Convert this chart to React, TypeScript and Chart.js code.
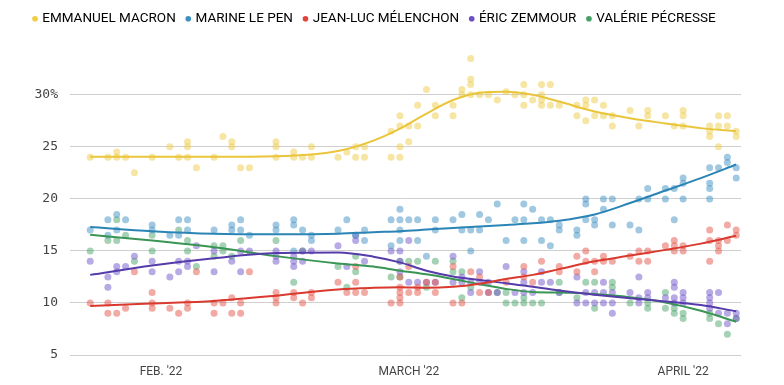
import React, { useEffect, useRef } from "react";
import { Chart, registerables } from "chart.js";

Chart.register(...registerables);

// ---- Data (day of year, Jan 1 = 0) ----
const candidates = ["EMMANUEL MACRON", "MARINE LE PEN", "JEAN-LUC MÉLENCHON", "ÉRIC ZEMMOUR", "VALÉRIE PÉCRESSE"];
const lineColors = ["#eac53b", "#2a84b5", "#da392e", "#563baa", "#3a9555"];
const dotColors = [
  "rgba(238,203,72,0.5)",
  "rgba(66,146,196,0.5)",
  "rgba(230,86,74,0.5)",
  "rgba(114,86,202,0.5)",
  "rgba(76,166,106,0.5)",
];
const legendColors = ["#f0cd45", "#3d90c2", "#e0443a", "#6b50c4", "#45a067"];

const xTickDays = [31, 59, 90];
const xTickLabels = ["FEB. '22", "MARCH '22", "APRIL '22"];
const yTicks = [5, 10, 15, 20, 25, 30];

const macronPolls: [number, number][] = [
  [23, 24], [25, 24], [26, 24], [26, 24.5], [27, 24], [28, 22.5], [30, 24], [32, 25], [33, 24],
  [34, 25.5], [34, 25], [34, 24], [35, 23], [37, 24], [38, 26], [39, 25.5], [39, 25], [40, 23],
  [41, 23], [44, 25.5], [44, 25], [44, 24], [46, 24.5], [46, 24], [47, 24], [48, 25], [48, 24],
  [51, 24], [52, 24.5], [53, 25], [53, 24], [54, 25], [54, 24], [57, 26.5], [57, 24], [58, 28],
  [58, 27], [58, 25], [58, 24], [59, 27], [59, 25.5], [60, 29], [60, 27], [61, 30.5], [62, 29],
  [62, 28], [64, 29], [64, 28], [65, 30.5], [65, 30], [66, 33.5], [66, 31.5], [66, 31], [66, 30],
  [67, 30], [68, 30], [69, 29.5], [70, 30.3], [71, 30], [72, 31], [72, 30], [72, 29], [73, 29.5],
  [74, 31], [74, 30], [74, 29.5], [74, 29], [75, 31], [75, 29], [76, 29], [78, 29], [78, 28],
  [79, 29.5], [79, 29], [79, 27.5], [80, 29.5], [80, 28], [81, 29], [81, 28], [82, 28], [82, 27],
  [84, 28.5], [85, 27], [86, 28.5], [86, 28], [88, 28], [89, 27], [90, 28.5], [90, 28], [90, 27],
  [93, 27], [93, 26.5], [93, 26], [94, 28], [94, 27], [94, 25], [95, 28], [95, 27], [96, 26.5], [96, 26],
];

const lePenPolls: [number, number][] = [
  [23, 17], [25, 18], [25, 16.5], [26, 18.5], [26, 17], [27, 18], [30, 17.5], [30, 17], [32, 16.5],
  [33, 18], [33, 16.5], [34, 18], [34, 17], [37, 17], [39, 17.5], [39, 17], [40, 18], [40, 17],
  [41, 16.5], [44, 17.5], [44, 17], [46, 18], [46, 17.5], [46, 15], [47, 17], [48, 16.5], [48, 16],
  [51, 17], [52, 18], [53, 16.5], [54, 17], [54, 16], [57, 18], [57, 15.5], [58, 19], [58, 18],
  [58, 17], [58, 16], [59, 18], [60, 18], [60, 16], [61, 14.5], [62, 18], [62, 17], [64, 18],
  [65, 18.5], [65, 17], [66, 17], [66, 15], [67, 18.5], [67, 17], [68, 18], [69, 19.5], [70, 16],
  [71, 18], [72, 19.5], [72, 18], [72, 16], [73, 19], [74, 18], [74, 16], [75, 18], [75, 15.5],
  [76, 17.5], [76, 17], [78, 17], [78, 16.5], [79, 20], [79, 19.5], [79, 18], [80, 18], [80, 17.5],
  [81, 20], [81, 19], [82, 20], [82, 17.5], [84, 17.5], [85, 20], [85, 17], [86, 21], [86, 20],
  [88, 21], [88, 20], [89, 21], [89, 18], [90, 22], [90, 21.5], [90, 20], [93, 23], [93, 21.5],
  [93, 21], [93, 20], [94, 23], [95, 24], [95, 23.5], [96, 23], [96, 22],
];

const melenchonPolls: [number, number][] = [
  [23, 10], [25, 10], [25, 9], [26, 9], [27, 9.5], [28, 13], [30, 11], [30, 10], [30, 9.5], [32, 9.5],
  [33, 9], [34, 10], [34, 9.5], [35, 13], [37, 10], [37, 9], [38, 10], [39, 10.5], [39, 9], [40, 10],
  [40, 9], [41, 13], [44, 11], [44, 10.5], [44, 10], [46, 11], [46, 10.5], [47, 10], [48, 11],
  [48, 10.5], [51, 12], [52, 11], [53, 13.5], [53, 12], [53, 11], [54, 11], [57, 10], [58, 12.5],
  [58, 11.5], [58, 11], [58, 10.5], [58, 10], [59, 13.5], [59, 11], [60, 11.5], [60, 11], [61, 12],
  [62, 12], [62, 11], [64, 13.5], [64, 10], [65, 10], [66, 13], [67, 12.5], [67, 11], [68, 11],
  [70, 12], [72, 13.5], [72, 12.5], [73, 12], [74, 14], [76, 13.5], [76, 13], [78, 14.5], [78, 13],
  [79, 15], [79, 14], [80, 14], [80, 13], [81, 14.5], [81, 14], [82, 14], [84, 14.5], [85, 15],
  [85, 14], [86, 15], [86, 14], [88, 15.5], [89, 16], [89, 15.5], [89, 15], [90, 15.5], [90, 15],
  [93, 17], [93, 16], [93, 14], [94, 16], [94, 15.5], [94, 15], [95, 17.5], [95, 16], [96, 17], [96, 16.5],
];

const zemmourPolls: [number, number][] = [
  [23, 14], [25, 12.5], [25, 11.5], [26, 13.5], [26, 13], [27, 13.5], [28, 14.5], [30, 14], [30, 13],
  [32, 12.5], [33, 14], [33, 13], [34, 14], [34, 13.5], [35, 15.5], [37, 15], [37, 13], [39, 14],
  [40, 15], [40, 13], [41, 15], [44, 15], [44, 14.5], [44, 14], [46, 14.5], [46, 14], [46, 13.5],
  [47, 15], [47, 14], [48, 15], [51, 15.5], [52, 13.5], [53, 16.5], [53, 16], [54, 14], [57, 15],
  [58, 15], [58, 14], [58, 13], [59, 16], [59, 12], [60, 12], [61, 12], [62, 12], [64, 14.5],
  [64, 12], [65, 12.5], [65, 12], [66, 12], [66, 11], [67, 13], [67, 12], [68, 12], [68, 11],
  [69, 11], [70, 13.5], [71, 11], [72, 13], [72, 12], [72, 11], [73, 11], [74, 13], [74, 12],
  [75, 12], [76, 11], [78, 12.5], [78, 10], [79, 11], [79, 10], [80, 11], [80, 10], [81, 12],
  [81, 11], [81, 10], [82, 11], [82, 10], [82, 9], [84, 11], [85, 12.5], [85, 10.5], [85, 10],
  [86, 11], [86, 10.5], [88, 10.5], [89, 12], [89, 11.5], [89, 10.5], [89, 10], [90, 11], [90, 10.5],
  [90, 10], [93, 11], [93, 10.5], [93, 10], [93, 9.5], [94, 11], [94, 9], [95, 9], [95, 8], [96, 9], [96, 8.5],
];

const pecressePolls: [number, number][] = [
  [23, 15], [25, 16], [26, 18], [26, 16], [27, 16.5], [28, 14], [30, 16.5], [30, 15], [33, 17],
  [34, 16], [34, 15], [35, 13.5], [37, 15.5], [37, 14.5], [38, 15.5], [38, 15], [39, 14.5], [40, 16],
  [44, 16], [46, 12], [47, 15], [51, 13.5], [52, 11.5], [53, 14.5], [53, 13], [57, 12.5], [58, 14],
  [58, 12.5], [59, 14], [60, 14], [61, 11.5], [62, 14], [64, 14], [64, 13], [65, 13], [65, 10.5],
  [66, 11.5], [69, 11], [70, 11], [70, 10], [71, 10], [72, 10.5], [72, 10], [73, 10], [74, 10],
  [76, 12], [76, 11], [78, 10.5], [79, 12], [80, 12], [80, 9.5], [82, 12], [82, 11.5], [84, 10],
  [86, 10], [86, 9.5], [88, 11], [88, 9.5], [89, 9.5], [89, 9], [90, 9], [90, 8.5], [93, 9], [93, 8.5],
  [94, 8], [95, 7], [96, 8.5],
];

const trendDays = [23, 30, 37, 44, 51, 55, 58, 61, 64, 67, 70, 73, 76, 80, 84, 88, 92, 96];
const macronTrend = [24.05, 24.05, 24.05, 24.1, 24.6, 25.6, 26.75, 28.2, 29.5, 30.2, 30.3, 30.0, 29.35, 28.4, 27.75, 27.25, 26.8, 26.5];
const lePenTrend = [17.3, 16.9, 16.65, 16.6, 16.65, 16.8, 16.9, 17.05, 17.2, 17.35, 17.5, 17.65, 17.9, 18.5, 19.6, 20.8, 22.0, 23.3];
const melenchonTrend = [9.7, 9.95, 10.2, 10.7, 11.3, 11.45, 11.5, 11.45, 11.55, 11.85, 12.3, 12.7, 13.25, 14.0, 14.55, 15.1, 15.7, 16.45];
const zemmourTrend = [12.7, 13.6, 14.3, 14.8, 14.85, 14.45, 13.9, 13.1, 12.55, 12.2, 11.9, 11.55, 11.2, 10.8, 10.45, 10.15, 9.8, 9.2];
const pecresseTrend = [16.55, 16.0, 15.35, 14.5, 13.8, 13.5, 13.1, 12.75, 12.3, 11.8, 11.35, 11.05, 11.0, 10.85, 10.55, 10.05, 9.25, 8.2];

const allPolls = [macronPolls, lePenPolls, melenchonPolls, zemmourPolls, pecressePolls];
const allTrends = [macronTrend, lePenTrend, melenchonTrend, zemmourTrend, pecresseTrend];

export default function App() {
  const canvasRef = useRef<HTMLCanvasElement | null>(null);

  useEffect(() => {
    document.body.style.margin = "0";
    const canvas = canvasRef.current;
    if (!canvas) return;

    const lineSets = allTrends.map((vals, i) => ({
      label: candidates[i],
      data: trendDays.map((d, k) => ({ x: d, y: vals[k] })),
      showLine: true,
      borderColor: lineColors[i],
      backgroundColor: lineColors[i],
      borderWidth: 2,
      pointRadius: 0,
      cubicInterpolationMode: "monotone" as const,
      order: 1,
    }));
    const dotSets = allPolls.map((pts, i) => ({
      label: candidates[i] + " polls",
      data: pts.map(([d, v]) => ({ x: d, y: v })),
      showLine: false,
      backgroundColor: dotColors[i],
      borderWidth: 0,
      pointRadius: 3.5,
      pointBorderWidth: 0,
      order: 2,
    }));

    const chart = new Chart(canvas, {
      type: "scatter",
      data: { datasets: [...lineSets, ...dotSets] as any },
      options: {
        responsive: false,
        animation: false,
        devicePixelRatio: 1,
        events: [],
        layout: { padding: { left: 22.5, right: 43, top: 0, bottom: 0 } },
        plugins: {
          tooltip: { enabled: false },
          legend: {
            display: true,
            position: "top",
            align: "start",
            labels: {
              usePointStyle: true,
              boxWidth: 1,
              boxHeight: 4,
              padding: 12,
              color: "#333333",
              font: { family: "Roboto", size: 13.5 },
              generateLabels: () =>
                candidates.map((c, i) => ({
                  text: c,
                  fillStyle: legendColors[i],
                  strokeStyle: legendColors[i],
                  lineWidth: 0,
                  pointStyle: "circle",
                  hidden: false,
                  datasetIndex: i,
                })) as any,
            },
          },
        },
        scales: {
          x: {
            type: "linear",
            min: 20.72,
            max: 96.54,
            grid: { display: false, drawTicks: false },
            border: { display: false },
            afterBuildTicks: (scale: any) => {
              scale.ticks = xTickDays.map((v) => ({ value: v }));
            },
            afterFit: (scale: any) => {
              scale.height = 30;
            },
            ticks: {
              autoSkip: false,
              maxRotation: 0,
              padding: 10,
              color: "#444444",
              font: { family: "Roboto", size: 12 },
              callback: (value: any) => {
                const idx = xTickDays.indexOf(Number(value));
                return idx >= 0 ? xTickLabels[idx] : "";
              },
            },
          },
          y: {
            type: "linear",
            min: 5,
            max: 35.7,
            grid: { color: "#cfcfcf", lineWidth: 1, drawTicks: false },
            border: { display: false },
            afterBuildTicks: (scale: any) => {
              scale.ticks = yTicks.map((v) => ({ value: v }));
            },
            afterFit: (scale: any) => {
              scale.width = 47.5;
            },
            ticks: {
              padding: 12,
              color: "#444444",
              font: { family: "DejaVu Sans Mono", size: 13 },
              callback: (value: any) => (Number(value) === 30 ? "30%" : String(value)),
            },
          },
        },
      },
    });

    return () => {
      chart.destroy();
    };
  }, []);

  return (
    <div style={{ width: 784, height: 385 }}>
      <canvas ref={canvasRef} width={784} height={385} style={{ display: "block" }} />
    </div>
  );
}
